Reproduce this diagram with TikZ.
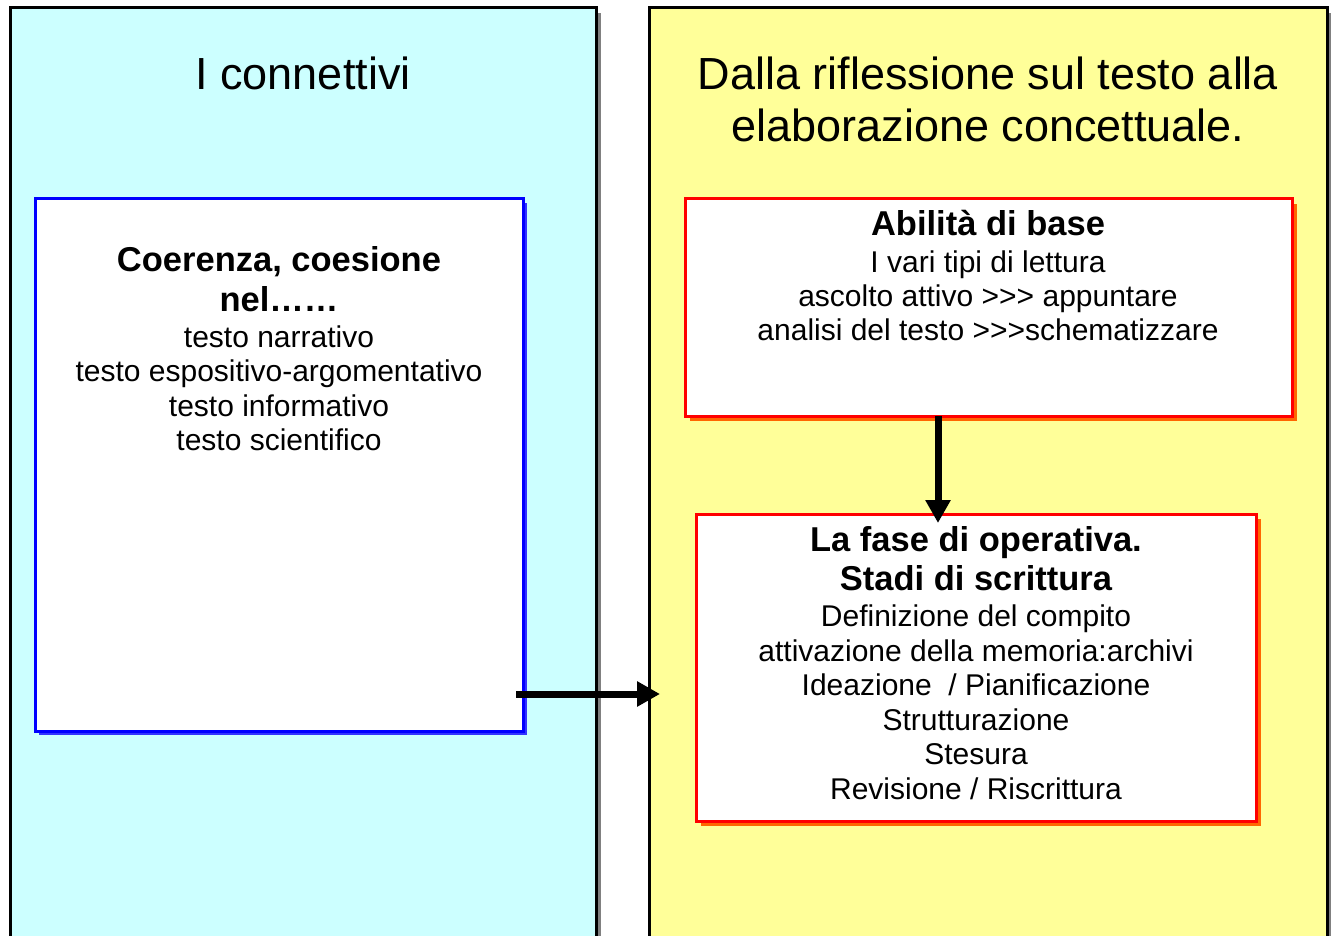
\documentclass[tikz,border=0pt]{standalone}
\usepackage{fontspec}
\setmainfont{Liberation Sans}
\usetikzlibrary{arrows.meta,shadows}
\definecolor{panelcyan}{HTML}{CCFFFF}
\definecolor{panelyellow}{HTML}{FFFF99}
\definecolor{shadowblue}{HTML}{3333FF}
\definecolor{shadoworange}{HTML}{FF6600}
\tikzset{
  panel/.style={draw=black, line width=3pt, anchor=north west, inner sep=0pt, outer sep=0pt,
    drop shadow={shadow xshift=5pt, shadow yshift=-5pt, fill=gray, opacity=1}},
  bluebox/.style={draw=blue, fill=white, line width=3pt, anchor=north west, inner sep=0pt, outer sep=0pt,
    drop shadow={shadow xshift=4pt, shadow yshift=-4pt, fill=shadowblue, opacity=1}},
  redbox/.style={draw=red, fill=white, line width=3pt, anchor=north west, inner sep=0pt, outer sep=0pt,
    drop shadow={shadow xshift=5pt, shadow yshift=-5pt, fill=shadoworange, opacity=1}},
  titletext/.style={inner sep=0pt, align=center, font=\fontsize{45}{52}\selectfont},
  boxtext/.style={inner sep=0pt, align=center, anchor=north, font=\fontsize{30}{34.5}\selectfont},
  bigarrow/.style={line width=7pt, -{Triangle[length=23pt,width=24pt]}}
}
\newcommand{\boxhead}[1]{{\fontsize{34.5}{39.5}\selectfont\bfseries #1}}
\begin{document}
\begin{tikzpicture}[x=1pt,y=-1pt]
        \useasboundingbox (0,0) rectangle (1331,936);
        \clip (0,0) rectangle (1331,936);
        % Define nodes for the two panels
        \node at (10,8) (left) [panel, fill=panelcyan, minimum width=586pt, minimum height=960pt] {};
        \node at (649,8) (right) [panel, fill=panelyellow, minimum width=678pt, minimum height=960pt] {};
        
        \node at (303,90) (ltitle) [titletext, anchor=base] {I connettivi};
        \node at (988,57) (rtitle) [titletext, anchor=north] {Dalla riflessione sul testo alla\\elaborazione concettuale.};
        
        % Define nodes for the boxes
        \node at (35,199) (coh) [bluebox, minimum width=488pt, minimum height=532pt] {};
        \node at (685,199) (abil) [redbox, minimum width=607pt, minimum height=217pt] {};
        \node at (696,514) (fase) [redbox, minimum width=560pt, minimum height=307pt] {};
        
        \node at (279,246) (cohtext) [boxtext] {\boxhead{Coerenza, coesione}\\[5.5pt]
          \boxhead{nel\dots\dots}\\[1.5pt]
          testo narrativo\\testo espositivo-argomentativo\\testo informativo\\testo scientifico};
        \node at (988,210) (abiltext) [boxtext] {\boxhead{Abilità di base}\\[2pt]
          I vari tipi di lettura\\[-0.5pt]ascolto attivo >{}>{}> appuntare\\[-0.5pt]analisi del testo >{}>{}>schematizzare};
        \node at (976,526) (fasetext) [boxtext] {\boxhead{La fase di operativa.}\\[4.5pt]
          \boxhead{Stadi di scrittura}\\[2pt]
          Definizione del compito\\attivazione della memoria:archivi\\Ideazione \ / Pianificazione\\Strutturazione\\Stesura\\Revisione / Riscrittura};
        
        % Draw edges
        \coordinate (htip) at (660,694);
        \coordinate (vtip) at (938,523);
        \draw[bigarrow] ([xshift=-7pt]coh.east |- htip) -- (htip);
        \draw[bigarrow] (vtip |- abil.south) -- (vtip);
    \end{tikzpicture}
\end{document}
